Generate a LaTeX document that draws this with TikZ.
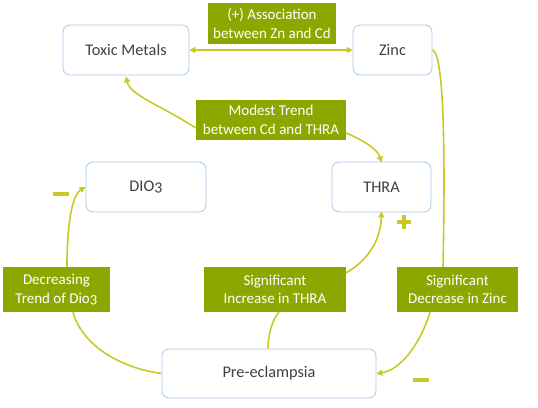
\documentclass[tikz,border=0pt]{standalone}
\usepackage{fontspec}
\setmainfont{Carlito}
\usetikzlibrary{arrows.meta}
\definecolor{lblfill}{HTML}{8CA800}
\definecolor{conn}{HTML}{C8C826}
\definecolor{boxedge}{HTML}{A8C8EC}
\definecolor{boxtext}{HTML}{404040}
\tikzset{
  box/.style={draw=boxedge, line width=0.8pt, rounded corners=7pt, fill=white,
    text=boxtext, font=\fontsize{16.3}{19}\selectfont, inner sep=0pt, align=center},
  lbl/.style={fill=lblfill, text=white, inner sep=0pt, align=center,
    font=\fontsize{15}{18.5}\selectfont},
  link/.style={draw=conn, line width=1.6pt},
  arr/.style={link, -{Triangle[length=6pt,width=6pt]}},
  sign/.style={draw=conn, line width=3.5pt}
}
\begin{document}
\begin{tikzpicture}[x=1pt,y=-1pt]
\useasboundingbox (0,0) rectangle (538,407);
% boxes
\node[box, minimum width=126pt, minimum height=50pt] (tm) at (126,50) {Toxic Metals};
\node[box, minimum width=79pt, minimum height=50pt] (zinc) at (392.5,50) {Zinc};
\node[box, minimum width=120pt, minimum height=50pt] (dio) at (146,187) {DIO{\addfontfeature{Numbers=OldStyle}3}};
\node[box, minimum width=99pt, minimum height=50pt] (thra) at (381.5,187) {THRA};
\node[box, minimum width=214pt, minimum height=49pt] (pre) at (269,373.5) {Pre-eclampsia};
% labels
\node[lbl, minimum width=128pt, minimum height=41pt] (assoc) at (272,23.5) {(+) Association\\between Zn and Cd};
\node[lbl, minimum width=150pt, minimum height=40pt] (modest) at (271,120) {Modest Trend\\between Cd and THRA};
\node[lbl, minimum width=107pt, minimum height=45pt] (decr) at (56.5,289.5) {Decreasing\\Trend of Dio{\addfontfeature{Numbers=OldStyle}3}};
\node[lbl, minimum width=142pt, minimum height=45pt] (incr) at (275,289.5) {Significant\\Increase in THRA};
\node[lbl, minimum width=121pt, minimum height=45pt] (decz) at (457.5,289.5) {Significant\\Decrease in Zinc};
% connector endpoints
\coordinate (mL) at ([yshift=-8pt]modest.west);
\coordinate (mR) at ([yshift=-13pt]modest.east);
\coordinate (tmB) at ([yshift=-1pt]tm.south);
\coordinate (thraT) at ([yshift=-1pt]thra.north);
\coordinate (thraB) at ([yshift=1pt]thra.south);
\coordinate (dzT) at ([xshift=-14.5pt]decz.north);
\coordinate (dzB) at ([xshift=-27.5pt]decz.south);
\coordinate (dcT) at ([xshift=10.5pt]decr.north);
\coordinate (dcB) at ([xshift=16.5pt]decr.south);
\coordinate (icB) at ([xshift=4pt]incr.south);
\coordinate (icT) at ([yshift=-6pt]incr.north east);
\coordinate (preT) at ([xshift=-1pt]pre.north);
% connectors
\draw[link, {Triangle[length=6pt,width=6pt]}-{Triangle[length=6pt,width=6pt]}] (tm.east) -- (zinc.west);
\draw[arr] (mL) .. controls (160,105) and (130,95) .. (tmB);
\draw[arr] (mR) .. controls (365,141) and (378,150) .. (thraT);
\draw[link] (zinc.east) .. controls (442,52) and (446,120) .. (dzT);
\draw[arr] (dzB) .. controls (420,345) and (400,370) .. (pre.east);
\draw[link] (pre.west) .. controls (120,368) and (82,345) .. (dcB);
\draw[arr] (dcT) .. controls (67,225) and (72,195) .. (dio.west);
\draw[link] (preT) .. controls (268,335) and (272,320) .. (icB);
\draw[arr] (icT) .. controls (372,258) and (381,235) .. (thraB);
% signs
\draw[sign] (53,194) -- (69,194);
\draw[sign] (413,380) -- (429,380);
\draw[sign] (397,222) -- (411,222);
\draw[sign] (404,215) -- (404,229);
\end{tikzpicture}
\end{document}
